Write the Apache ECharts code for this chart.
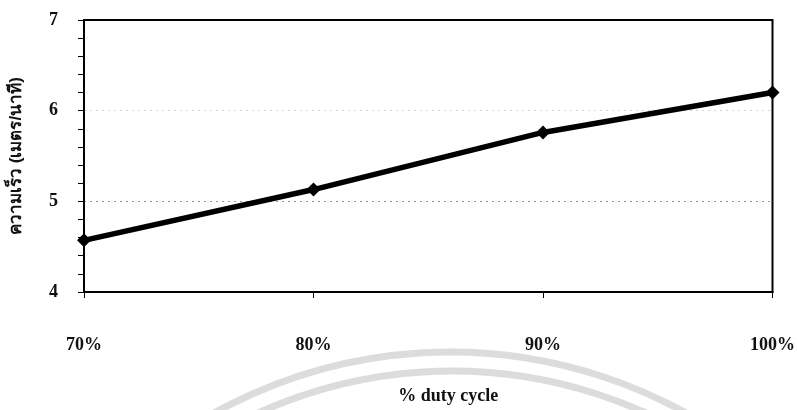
<!DOCTYPE html>
<html>
<head>
<meta charset="utf-8">
<script src="https://cdn.jsdelivr.net/npm/echarts@6/dist/echarts.min.js"></script>
<style>
html,body{margin:0;padding:0;background:#fff;}
#chart{width:798px;height:410px;}
</style>
</head>
<body>
<div id="chart"></div>
<script>
var categories = ['70%', '80%', '90%', '100%'];
var speedValues = [4.57, 5.13, 5.76, 6.2];
var yTicks = [4, 5, 6, 7];
var xTitle = '% duty cycle';
var yTitle = 'ความเร็ว (เมตร/นาที)';

var serif = '"Liberation Serif", "Times New Roman", "DejaVu Serif", serif';
var chart = echarts.init(document.getElementById('chart'), null, {renderer: 'canvas'});
chart.setOption({
  backgroundColor: '#fff',
  animation: false,
  graphic: [
    {type: 'arc', silent: true, z: -10, shape: {cx: 450, cy: 838, r: 486, startAngle: Math.PI * 1.1, endAngle: Math.PI * 1.9}, style: {stroke: '#dcdcdc', lineWidth: 7, fill: null}},
    {type: 'arc', silent: true, z: -10, shape: {cx: 452, cy: 840, r: 469, startAngle: Math.PI * 1.1, endAngle: Math.PI * 1.9}, style: {stroke: '#dcdcdc', lineWidth: 7, fill: null}}
  ],
  grid: {left: 78, right: 25, top: 20, bottom: 114, show: true, borderColor: '#000', borderWidth: 2, backgroundColor: 'transparent'},
  xAxis: {
    type: 'category',
    data: categories,
    boundaryGap: false,
    name: xTitle,
    nameLocation: 'middle',
    nameGap: 95,
    nameTextStyle: {fontFamily: serif, fontWeight: 'bold', fontSize: 18, color: '#111', padding: [0, 0, 0, 40]},
    axisLine: {show: true, lineStyle: {color: '#000', width: 2}},
    axisTick: {show: true, length: 6, lineStyle: {color: '#000', width: 1}},
    axisLabel: {margin: 44, fontFamily: serif, fontWeight: 'bold', fontSize: 18, color: '#111'},
    splitLine: {show: false}
  },
  yAxis: {
    type: 'value',
    min: 4,
    max: 7,
    interval: 1,
    name: yTitle,
    nameLocation: 'middle',
    nameGap: 59,
    nameTextStyle: {fontWeight: 'bold', fontSize: 17, color: '#111'},
    axisLine: {show: true, lineStyle: {color: '#000', width: 2}},
    axisTick: {show: true, length: 6, lineStyle: {color: '#000', width: 1}},
    minorTick: {show: true, splitNumber: 5, length: 6, lineStyle: {color: '#000', width: 1}},
    axisLabel: {margin: 26, fontFamily: serif, fontWeight: 'bold', fontSize: 18, color: '#111'},
    splitLine: {show: true, lineStyle: {color: ['transparent', '#999', '#d4d4d4', 'transparent'], width: 1, type: [2, 4]}}
  },
  series: [{
    type: 'line',
    data: speedValues,
    symbol: 'diamond',
    symbolSize: 14,
    lineStyle: {color: '#000', width: 5.5},
    itemStyle: {color: '#000'},
    z: 5
  }]
});
</script>
</body>
</html>
